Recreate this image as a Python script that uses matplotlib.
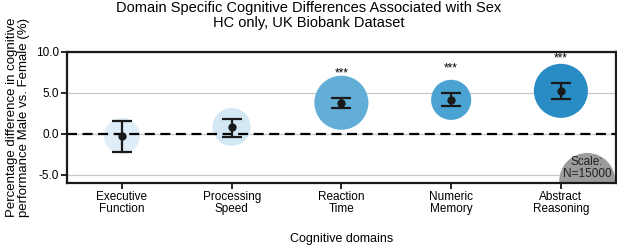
import numpy as np
import matplotlib
matplotlib.use("Agg")
import matplotlib.pyplot as plt

plt.rcParams['font.family'] = ['Liberation Sans', 'DejaVu Sans']
plt.rcParams['axes.unicode_minus'] = False

# data
domains = ['Executive\nFunction', 'Processing\nSpeed', 'Reaction\nTime',
           'Numeric\nMemory', 'Abstract\nReasoning']
mean_diff = [-0.25, 0.85, 3.8, 4.15, 5.25]
ci_low = [-2.2, -0.35, 3.2, 3.35, 4.25]
ci_high = [1.6, 1.85, 4.35, 4.95, 6.25]
sample_n = [6200, 6900, 14000, 7700, 14000]
bubble_colors = ['#deedf7', '#d3e7f4', '#62aed7', '#4aa3d3', '#2a8cc5']
signif = ['', '', '***', '***', '***']
scale_n = 15000

size_per_n = 1625 / 15000  # marker area (pt^2) per subject

fig = plt.figure(figsize=(6.17, 2.46), dpi=100)
ax = fig.add_axes([0.1086, 0.256, 0.8894, 0.533])

x = np.arange(len(domains))

ax.axhline(0, color='black', lw=1.6, ls=(0, (4.5, 2.5)), zorder=2)
ax.scatter(x, mean_diff, s=np.array(sample_n) * size_per_n,
           c=bubble_colors, edgecolors='none', zorder=1)

yerr = [np.array(mean_diff) - np.array(ci_low), np.array(ci_high) - np.array(mean_diff)]
ax.errorbar(x, mean_diff, yerr=yerr, fmt='o', color='#1a1a1a', ms=5,
            capsize=7, elinewidth=1.6, capthick=1.6, zorder=3)

for xi, hi, s in zip(x, ci_high, signif):
    if s:
        ax.text(xi, hi + 3.0, s, ha='center', va='center', fontsize=8.5)

# scale bubble
ax.scatter([4.24], [-5.75], s=scale_n * size_per_n, color='#9b9b9b',
           edgecolors='none', zorder=1)
ax.text(4.24, -4.15, 'Scale:\nN=%d' % scale_n, ha='center', va='center',
        fontsize=8.5, color='#222222', linespacing=1.0, zorder=4)

ax.set_xlim(-0.5, 4.5)
ax.set_ylim(-6, 10)
ax.set_yticks([-5, 0, 5, 10])
ax.set_yticklabels(['-5.0', '0.0', '5.0', '10.0'])
ax.set_xticks(x)
ax.set_xticklabels(domains, fontsize=8.5, linespacing=1.0)
ax.tick_params(axis='y', labelsize=8.5, length=4, width=1.2, pad=2)
ax.tick_params(axis='x', length=4, width=1.2, pad=2)
ax.yaxis.grid(True, color='#c8c8c8', lw=0.9)
ax.set_axisbelow(True)
for sp in ax.spines.values():
    sp.set_linewidth(1.6)
    sp.set_color('#1a1a1a')

ax.set_ylabel('Percentage difference in cognitive\nperformance Male vs. Female (%)',
              fontsize=9.5, linespacing=1.0, labelpad=4)
ax.set_xlabel('Cognitive domains', fontsize=9, labelpad=13)
fig.suptitle('Domain Specific Cognitive Differences Associated with Sex\nHC only, UK Biobank Dataset',
             fontsize=10.5, linespacing=1.1, x=0.5, y=0.995, va='top')

fig.savefig('out.png', dpi=100)
